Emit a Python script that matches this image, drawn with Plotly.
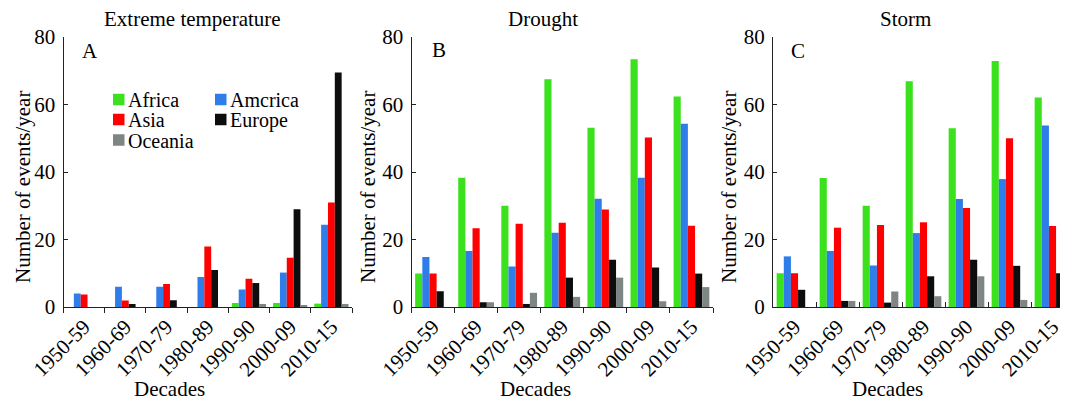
import plotly.graph_objects as go

# ---------------- data ----------------
decades = ["1950-59", "1960-69", "1970-79", "1980-89", "1990-90", "2000-09", "2010-15"]
regions = ["Africa", "Amcrica", "Asia", "Europe", "Oceania"]
region_colors = ["#3ae11c", "#2f7de8", "#fe0000", "#0d0d0d", "#7d8685"]

panel_titles = ["Extreme temperature", "Drought", "Storm"]
panel_letters = ["A", "B", "C"]
y_ticks = [0, 20, 40, 60, 80]

# A: Extreme temperature
africa_A = [0, 0, 0, 0, 1.2, 1.2, 1.0]
america_A = [4.0, 6.0, 6.0, 8.9, 5.2, 10.2, 24.4]
asia_A = [3.7, 1.9, 6.8, 17.9, 8.4, 14.6, 31.0]
europe_A = [0, 0.9, 2.0, 11.0, 7.1, 29.0, 69.5]
oceania_A = [0, 0, 0, 0, 0.9, 0.4, 0.9]

# B: Drought
africa_B = [9.9, 38.3, 30.0, 67.5, 53.1, 73.4, 62.4]
america_B = [14.8, 16.6, 12.0, 22.0, 32.1, 38.3, 54.3]
asia_B = [9.9, 23.3, 24.7, 25.0, 28.9, 50.2, 24.1]
europe_B = [4.7, 1.4, 0.9, 8.7, 14.0, 11.7, 9.9]
oceania_B = [0, 1.4, 4.2, 3.0, 8.7, 1.7, 5.9]

# C: Storm
africa_C = [10.0, 38.2, 30.0, 66.9, 53.0, 72.9, 62.1]
america_C = [15.0, 16.6, 12.3, 21.9, 32.0, 37.9, 53.8]
asia_C = [10.0, 23.5, 24.3, 25.1, 29.3, 50.0, 24.0]
europe_C = [5.1, 1.8, 1.3, 9.1, 14.0, 12.2, 10.0]
oceania_C = [0, 1.8, 4.6, 3.2, 9.1, 2.1, 6.1]

panel_data = [
    [africa_A, america_A, asia_A, europe_A, oceania_A],
    [africa_B, america_B, asia_B, europe_B, oceania_B],
    [africa_C, america_C, asia_C, europe_C, oceania_C],
]

# ---------------- layout helpers ----------------
W, H = 1068, 399
FONT = "Liberation Serif"
OFF = 8  # page body margin


def px(x):
    return (x - OFF) / W


def py(y):
    return 1 - (y - OFF) / H


x_domains = [[px(63.5), px(352)], [px(411.5), px(713)], [px(773), px(1068)]]
x_ranges = [[-0.5, 6.5], [-0.5, 6.5], [-0.5, -0.5 + (1068 - 773) / 43.0]]
x_tick_dir = ["outside", "outside", "inside"]
y_domain = [py(307), py(37)]

title_pos = [(192, 19), (543, 19), (905, 19)]
letter_pos = [(90, 51), (438.5, 50), (798, 51)]
ytitle_pos = [(23, 187), (368, 187), (729, 187)]
xtitle_pos = [(169, 389), (535, 389), (887, 389)]

fig = go.Figure()

for p in range(3):
    xa = "x" if p == 0 else f"x{p + 1}"
    ya = "y" if p == 0 else f"y{p + 1}"
    for r, name in enumerate(regions):
        fig.add_trace(go.Bar(
            x=decades, y=panel_data[p][r], name=name,
            marker=dict(color=region_colors[r], line=dict(width=0)),
            xaxis=xa, yaxis=ya, showlegend=False,
            offsetgroup=str(r),
        ))

layout = dict(
    width=W, height=H, autosize=False,
    margin=dict(l=0, r=0, t=0, b=0, pad=0, autoexpand=False),
    paper_bgcolor="white", plot_bgcolor="white",
    barmode="group", bargap=0.17, bargroupgap=0,
    font=dict(family=FONT, color="black", size=20),
    showlegend=False,
)

annotations = []
for p in range(3):
    xk = "xaxis" if p == 0 else f"xaxis{p + 1}"
    yk = "yaxis" if p == 0 else f"yaxis{p + 1}"
    ya = "y" if p == 0 else f"y{p + 1}"
    xa = "x" if p == 0 else f"x{p + 1}"
    layout[xk] = dict(
        domain=x_domains[p], anchor=ya, type="category",
        range=x_ranges[p], tickson="boundaries", automargin=False,
        ticks=x_tick_dir[p], ticklen=5, tickwidth=1, tickcolor="#222",
        tickangle=-45, tickfont=dict(family=FONT, size=21),
        ticklabelstandoff=-2,
        showline=True, linecolor="#222", linewidth=1.3,
        showgrid=False, zeroline=False,
    )
    layout[yk] = dict(
        domain=y_domain, anchor=xa, range=[0, 80], automargin=False,
        tickmode="array", tickvals=y_ticks, ticktext=[str(v) for v in y_ticks],
        ticks="inside", ticklen=4, tickwidth=1, tickcolor="#222",
        ticklabelstandoff=3,
        tickfont=dict(family=FONT, size=21),
        showline=True, linecolor="#222", linewidth=1.3,
        showgrid=False, zeroline=False,
    )
    annotations.append(dict(
        text=panel_titles[p], x=px(title_pos[p][0]), y=py(title_pos[p][1]),
        xref="paper", yref="paper", showarrow=False,
        xanchor="center", yanchor="middle", font=dict(family=FONT, size=21),
    ))
    annotations.append(dict(
        text=panel_letters[p], x=px(letter_pos[p][0]), y=py(letter_pos[p][1]),
        xref="paper", yref="paper", showarrow=False,
        xanchor="center", yanchor="middle", font=dict(family=FONT, size=21),
    ))
    annotations.append(dict(
        text="Number of events/year", x=px(ytitle_pos[p][0]), y=py(ytitle_pos[p][1]),
        xref="paper", yref="paper", showarrow=False, textangle=-90,
        xanchor="center", yanchor="middle", font=dict(family=FONT, size=21),
    ))
    annotations.append(dict(
        text="Decades", x=px(xtitle_pos[p][0]), y=py(xtitle_pos[p][1]),
        xref="paper", yref="paper", showarrow=False,
        xanchor="center", yanchor="middle", font=dict(family=FONT, size=21),
    ))

# legend (two columns inside panel A)
shapes = []
leg_col_x = [113, 215]
leg_row_y = [99.5, 119.5, 140]
sq = 11.5
for i, name in enumerate(regions):
    c, r = i % 2, i // 2
    x0 = leg_col_x[c]
    yc = leg_row_y[r]
    shapes.append(dict(
        type="rect", xref="paper", yref="paper",
        x0=px(x0), x1=px(x0 + sq), y0=py(yc + sq / 2), y1=py(yc - sq / 2),
        fillcolor=region_colors[i], line=dict(width=0),
    ))
    annotations.append(dict(
        text=name, x=px(x0 + sq + 1.5), y=py(yc + 1),
        xref="paper", yref="paper", showarrow=False,
        xanchor="left", yanchor="middle", font=dict(family=FONT, size=20),
    ))

layout["annotations"] = annotations
layout["shapes"] = shapes
fig.update_layout(**layout)

fig.write_html("out.html")
